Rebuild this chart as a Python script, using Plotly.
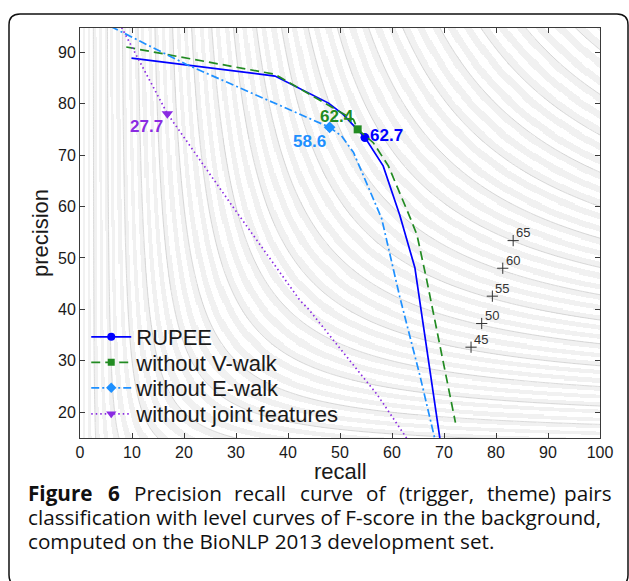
import numpy as np
import plotly.graph_objects as go

# ---- data ----
rupee_recall = [9.9, 37.5, 47.8, 50.6, 54.8, 58.3, 61.5, 64.4, 69.2]
rupee_prec = [88.85, 85.35, 80.1, 77.9, 73.4, 67.9, 58.3, 48.1, 15.0]
rupee_best = (54.8, 73.4)

vwalk_recall = [8.9, 37.5, 52.6, 53.4, 56.4, 59.3, 63.5, 64.8, 66.7, 72.2]
vwalk_prec = [91.0, 85.7, 76.9, 75.0, 72.4, 67.9, 57.8, 54.5, 45.6, 18.0]
vwalk_best = (53.4, 75.0)

ewalk_recall = [5.9, 20.5, 48.0, 50.3, 52.6, 55.8, 58.0, 61.5, 65.4, 68.2]
ewalk_prec = [95.0, 87.6, 75.4, 73.7, 70.5, 62.8, 57.7, 42.4, 27.0, 15.0]
ewalk_best = (48.0, 75.4)

joint_recall = [8.0, 16.8, 29.5, 42.3, 43.9, 57.1, 62.8]
joint_prec = [94.8, 78.05, 59.8, 41.75, 40.1, 23.5, 15.0]
joint_best = (16.8, 78.05)

best_labels = ["62.7", "62.4", "58.6", "27.7"]
label_pos_recall = [59.0, 49.4, 44.2, 12.8]
label_pos_prec = [73.8, 77.5, 72.55, 75.5]

level_recall = [75.2, 77.25, 79.3, 81.3, 83.3]
level_prec = [32.65, 37.26, 42.57, 48.0, 53.37]
level_labels = ["45", "50", "55", "60", "65"]

names = ["RUPEE", "without V-walk", "without E-walk", "without joint features"]
colors = ["#0000ff", "#228b22", "#1e90ff", "#8a2be2"]
dashes = ["solid", "9px,5px", "8px,3px,2px,3px", "1.5px,3px"]
symbols = ["circle", "square", "diamond", "triangle-down"]

x_ticks = list(range(0, 101, 10))
y_ticks = list(range(20, 91, 10))
x_range = [0, 100]
y_range = [15.0, 94.7]

caption_line1 = [("Figure", True), ("6", True), ("Precision", False), ("recall", False),
                 ("curve", False), ("of", False), ("(trigger,", False), ("theme)", False),
                 ("pairs", False)]
caption_line2 = "classification with level curves of F-score in the background,"
caption_line3 = "computed on the BioNLP 2013 development set."

# plot area in pixels
L, R, T, B = 80, 600, 28, 438
W, H = R - L, B - T

def px2paper(px, py):
    return (px - L) / float(W), (B - py) / float(H)

# ---- background: F-score level bands ----
gx = np.arange(0.1, 100, 0.2)
gy = np.arange(14.1, 96, 0.2)
X, Y = np.meshgrid(gx, gy)
F = np.where(X + Y > 0, 2 * X * Y / np.maximum(X + Y, 1e-9), 0)
band = (np.floor(F).astype(int) % 2)

cx = np.arange(0, 100.01, 0.5)
cy = np.arange(14, 96.01, 0.5)
CX, CY = np.meshgrid(cx, cy)
CF = np.where(CX + CY > 0, 2 * CX * CY / np.maximum(CX + CY, 1e-9), 0)

fig = go.Figure()
fig.add_trace(go.Heatmap(x=gx, y=gy, z=band.tolist(), zsmooth=False,
                         colorscale=[[0, "#ffffff"], [1, "#f1f1f1"]],
                         showscale=False, hoverinfo="skip", showlegend=False))
fig.add_trace(go.Contour(x=cx, y=cy, z=CF, showscale=False, hoverinfo="skip",
                         contours=dict(start=5, end=95, size=5, coloring="lines"),
                         colorscale=[[0, "#c8c8c8"], [1, "#c8c8c8"]],
                         line=dict(width=0.7), showlegend=False))

curves = [(rupee_recall, rupee_prec, rupee_best),
          (vwalk_recall, vwalk_prec, vwalk_best),
          (ewalk_recall, ewalk_prec, ewalk_best),
          (joint_recall, joint_prec, joint_best)]
msize = [9, 8, 9, 10]
for i, (rx, py, best) in enumerate(curves):
    fig.add_trace(go.Scatter(x=rx, y=py, mode="lines", showlegend=False,
                             line=dict(color=colors[i], width=1.7, dash=dashes[i]),
                             hoverinfo="skip"))
    fig.add_trace(go.Scatter(x=[best[0]], y=[best[1]], mode="markers", showlegend=False,
                             marker=dict(color=colors[i], size=msize[i], symbol=symbols[i],
                                         line=dict(width=0)), hoverinfo="skip"))

# legend entries, one legend per row so that rows sit where the reference has them
legend_rows_px = [337, 362.5, 388, 414]
legend_keys = ["legend", "legend2", "legend3", "legend4"]
legend_layouts = {}
for i in range(4):
    fig.add_trace(go.Scatter(x=[None], y=[None], mode="lines+markers", name=names[i],
                             legend=legend_keys[i],
                             line=dict(color=colors[i], width=1.7, dash=dashes[i]),
                             marker=dict(color=colors[i], size=msize[i] - 1, symbol=symbols[i],
                                         line=dict(width=0))))
    _, ly = px2paper(0, legend_rows_px[i])
    legend_layouts[legend_keys[i]] = dict(
        x=0.012, y=ly, xanchor="left", yanchor="middle",
        bgcolor="rgba(0,0,0,0)", borderwidth=0, itemwidth=40,
        font=dict(family="Liberation Sans, Arial", size=22, color="#1a1a1a"))

# level curve markers
fig.add_trace(go.Scatter(x=level_recall, y=level_prec, mode="markers", showlegend=False,
                         marker=dict(symbol="cross-thin", size=8, line=dict(width=1, color="#333333")),
                         hoverinfo="skip"))

ann = []
for t, xx, yy, c in zip(best_labels, label_pos_recall, label_pos_prec, colors):
    ann.append(dict(x=xx, y=yy, xref="x", yref="y", text=t, showarrow=False,
                    xanchor="center", yanchor="middle",
                    font=dict(family="Liberation Sans, Arial", size=17, color=c, weight="bold")))
for t, xx, yy in zip(level_labels, level_recall, level_prec):
    ann.append(dict(x=xx, y=yy, xref="x", yref="y", text=t, showarrow=False,
                    xanchor="left", yanchor="middle", xshift=1, yshift=8,
                    font=dict(family="Liberation Sans, Arial", size=13, color="#333333")))

# axis titles
ax, ay = px2paper(340, 471)
ann.append(dict(x=ax, y=ay, xref="paper", yref="paper", text="recall", showarrow=False,
                xanchor="center", yanchor="middle",
                font=dict(family="Liberation Sans, Arial", size=22, color="#1a1a1a")))
ax, ay = px2paper(40, 233)
ann.append(dict(x=ax, y=ay, xref="paper", yref="paper", text="precision", showarrow=False,
                xanchor="center", yanchor="middle", textangle=-90,
                font=dict(family="Liberation Sans, Arial", size=22, color="#1a1a1a")))

# ---- caption ----
CAP_SIZE = 20.7
REG = {'a': .556, 'b': .613, 'c': .48, 'd': .613, 'e': .561, 'f': .336, 'g': .547, 'h': .613,
       'i': .258, 'j': .258, 'k': .525, 'l': .258, 'm': .93, 'n': .613, 'o': .602, 'p': .613,
       'q': .613, 'r': .408, 's': .477, 't': .353, 'u': .613, 'v': .5, 'w': .774, 'x': .514,
       'y': .5, 'z': .465, ' ': .26, ',': .246, '(': .297, ')': .297, 'P': .603, '.': .266}
BOLD = {'F': .58, 'i': .32, 'g': .58, 'u': .67, 'r': .48, 'e': .6, '6': .572}

def word_width(w, bold):
    table = BOLD if bold else REG
    return sum(table.get(ch, .57) for ch in w) * CAP_SIZE * 0.984

cap_left, cap_right = 26, 614
widths = [word_width(w, b) for w, b in caption_line1]
gap_px = (cap_right - cap_left - sum(widths)) / (len(widths) - 1)
xpos = cap_left
for (w, b), wd in zip(caption_line1, widths):
    last = (w == caption_line1[-1][0])
    ax, ay = px2paper(cap_right if last else xpos, 493)
    ann.append(dict(x=ax, y=ay, xref="paper", yref="paper",
                    text=f"<b>{w}</b>" if b else w, showarrow=False,
                    xanchor="right" if last else "left", yanchor="middle",
                    font=dict(family="Open Sans", size=CAP_SIZE, color="#111111")))
    xpos += wd + gap_px

for txt, py in [(caption_line2, 517), (caption_line3, 541)]:
    ax, ay = px2paper(cap_left, py)
    ann.append(dict(x=ax, y=ay, xref="paper", yref="paper", text=txt, showarrow=False,
                    xanchor="left", yanchor="middle",
                    font=dict(family="Open Sans", size=CAP_SIZE, color="#111111")))

# rounded border
def rounded_path(x0, y0, x1, y1, r):
    def P(px, py):
        a, b = px2paper(px, py)
        return f"{a:.5f},{b:.5f}"
    return (f"M{P(x0 + r, y0)} L{P(x1 - r, y0)} Q{P(x1, y0)} {P(x1, y0 + r)} "
            f"L{P(x1, y1 - r)} Q{P(x1, y1)} {P(x1 - r, y1)} L{P(x0 + r, y1)} "
            f"Q{P(x0, y1)} {P(x0, y1 - r)} L{P(x0, y0 + r)} Q{P(x0, y0)} {P(x0 + r, y0)} Z")

shapes = [dict(type="path", xref="paper", yref="paper",
               path=rounded_path(9, 14, 628, 586, 11),
               line=dict(color="#111111", width=1.5), fillcolor="rgba(0,0,0,0)", layer="above")]

axis_common = dict(showline=True, linecolor="#3a3a3a", linewidth=1, mirror="ticks",
                   ticks="inside", ticklen=5, tickcolor="#3a3a3a", showgrid=False,
                   zeroline=False,
                   tickfont=dict(family="Liberation Sans, Arial", size=16, color="#1a1a1a"))

fig.update_layout(
    width=629, height=581,
    margin=dict(l=L, r=629 - R, t=T, b=581 - B),
    paper_bgcolor="white", plot_bgcolor="white",
    xaxis=dict(range=x_range, tickvals=x_ticks, **axis_common),
    yaxis=dict(range=y_range, tickvals=y_ticks, **axis_common),
    annotations=ann, shapes=shapes,
    **legend_layouts,
)

fig.write_html("out.html", config={"displayModeBar": False},
               post_script="document.body.style.margin='0px';document.body.style.overflow='hidden';")
